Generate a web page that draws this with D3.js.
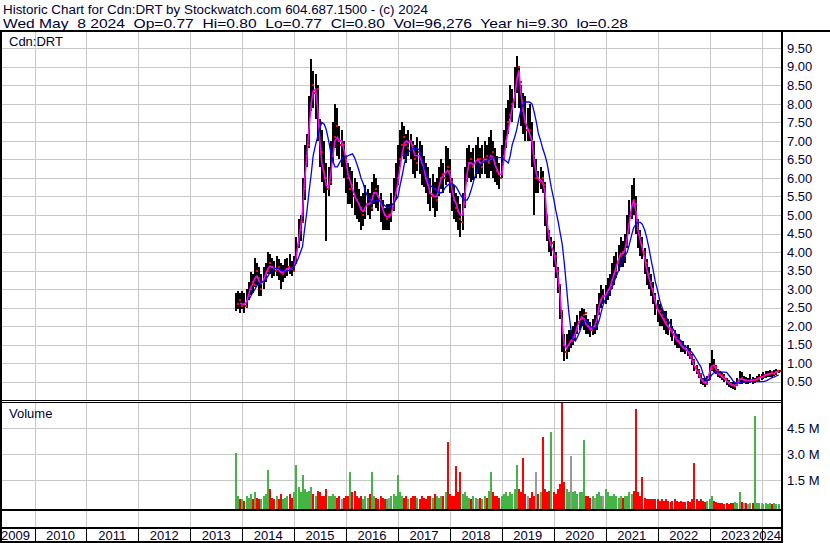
<!DOCTYPE html>
<html><head><meta charset="utf-8">
<script src="https://cdn.jsdelivr.net/npm/d3@7"></script>
<style>
html,body{margin:0;padding:0;background:#fff;}
svg{display:block;font-family:"Liberation Sans",Arial,sans-serif;}
text{white-space:pre;}
</style></head><body>
<svg id="c" width="830" height="543"></svg>
<script>
// ---------- DATA (semi-monthly) ----------
const dates = [
"2013-11-15","2013-12-01","2013-12-15",
"2014-01-01","2014-01-15","2014-02-01","2014-02-15","2014-03-01","2014-03-15","2014-04-01","2014-04-15","2014-05-01","2014-05-15","2014-06-01","2014-06-15","2014-07-01","2014-07-15","2014-08-01","2014-08-15","2014-09-01","2014-09-15","2014-10-01","2014-10-15","2014-11-01","2014-11-15","2014-12-01","2014-12-15",
"2015-01-01","2015-01-15","2015-02-01","2015-02-15","2015-03-01","2015-03-15","2015-04-01","2015-04-15","2015-05-01","2015-05-15","2015-06-01","2015-06-15","2015-07-01","2015-07-15","2015-08-01","2015-08-15","2015-09-01","2015-09-15","2015-10-01","2015-10-15","2015-11-01","2015-11-15","2015-12-01","2015-12-15",
"2016-01-01","2016-01-15","2016-02-01","2016-02-15","2016-03-01","2016-03-15","2016-04-01","2016-04-15","2016-05-01","2016-05-15","2016-06-01","2016-06-15","2016-07-01","2016-07-15","2016-08-01","2016-08-15","2016-09-01","2016-09-15","2016-10-01","2016-10-15","2016-11-01","2016-11-15","2016-12-01","2016-12-15",
"2017-01-01","2017-01-15","2017-02-01","2017-02-15","2017-03-01","2017-03-15","2017-04-01","2017-04-15","2017-05-01","2017-05-15","2017-06-01","2017-06-15","2017-07-01","2017-07-15","2017-08-01","2017-08-15","2017-09-01","2017-09-15","2017-10-01","2017-10-15","2017-11-01","2017-11-15","2017-12-01","2017-12-15",
"2018-01-01","2018-01-15","2018-02-01","2018-02-15","2018-03-01","2018-03-15","2018-04-01","2018-04-15","2018-05-01","2018-05-15","2018-06-01","2018-06-15","2018-07-01","2018-07-15","2018-08-01","2018-08-15","2018-09-01","2018-09-15","2018-10-01","2018-10-15","2018-11-01","2018-11-15","2018-12-01","2018-12-15",
"2019-01-01","2019-01-15","2019-02-01","2019-02-15","2019-03-01","2019-03-15","2019-04-01","2019-04-15","2019-05-01","2019-05-15","2019-06-01","2019-06-15","2019-07-01","2019-07-15","2019-08-01","2019-08-15","2019-09-01","2019-09-15","2019-10-01","2019-10-15","2019-11-01","2019-11-15","2019-12-01","2019-12-15",
"2020-01-01","2020-01-15","2020-02-01","2020-02-15","2020-03-01","2020-03-15","2020-04-01","2020-04-15","2020-05-01","2020-05-15","2020-06-01","2020-06-15","2020-07-01","2020-07-15","2020-08-01","2020-08-15","2020-09-01","2020-09-15","2020-10-01","2020-10-15","2020-11-01","2020-11-15","2020-12-01","2020-12-15",
"2021-01-01","2021-01-15","2021-02-01","2021-02-15","2021-03-01","2021-03-15","2021-04-01","2021-04-15","2021-05-01","2021-05-15","2021-06-01","2021-06-15","2021-07-01","2021-07-15","2021-08-01","2021-08-15","2021-09-01","2021-09-15","2021-10-01","2021-10-15","2021-11-01","2021-11-15","2021-12-01","2021-12-15",
"2022-01-01","2022-01-15","2022-02-01","2022-02-15","2022-03-01","2022-03-15","2022-04-01","2022-04-15","2022-05-01","2022-05-15","2022-06-01","2022-06-15","2022-07-01","2022-07-15","2022-08-01","2022-08-15","2022-09-01","2022-09-15","2022-10-01","2022-10-15","2022-11-01","2022-11-15","2022-12-01","2022-12-15",
"2023-01-01","2023-01-15","2023-02-01","2023-02-15","2023-03-01","2023-03-15","2023-04-01","2023-04-15","2023-05-01","2023-05-15","2023-06-01","2023-06-15","2023-07-01","2023-07-15","2023-08-01","2023-08-15","2023-09-01","2023-09-15","2023-10-01","2023-10-15","2023-11-01","2023-11-15","2023-12-01","2023-12-15",
"2024-01-01","2024-01-15","2024-02-01","2024-02-15","2024-03-01","2024-03-15","2024-04-01","2024-04-15","2024-05-01"
];
const highs = [
2.9,2.95,2.9,
2.95,2.9,3.0,3.2,3.45,3.4,3.85,3.7,3.6,3.4,3.6,3.7,4.0,3.95,3.85,3.75,3.9,3.8,3.7,3.65,3.8,3.85,3.95,3.75,
3.9,4.4,4.9,5.0,6.0,6.9,7.2,8.2,9.2,8.9,8.8,8.5,7.6,7.3,7.0,6.4,6.3,7.0,7.5,8.0,7.9,7.4,7.3,7.0,
6.6,6.4,6.3,6.2,6.0,5.9,5.7,5.5,5.6,5.8,5.7,5.6,5.9,6.1,6.0,5.8,5.6,5.4,5.2,5.3,5.3,5.6,6.0,6.4,
6.9,7.3,7.5,7.4,7.2,7.3,7.2,7.0,6.9,7.1,7.0,6.9,6.6,6.4,6.3,6.0,6.1,5.9,6.0,6.3,6.5,6.4,6.85,6.8,
6.5,6.0,5.8,5.6,5.5,5.3,5.6,6.3,6.8,6.9,6.7,6.8,6.9,7.1,6.8,6.9,7.0,6.9,7.1,7.3,7.0,6.8,6.6,6.4,
6.9,7.3,7.9,8.1,8.5,8.4,9.0,9.3,9.0,8.5,8.3,8.2,7.9,8.0,7.5,7.0,6.5,6.2,6.3,6.2,5.9,5.0,4.6,4.4,
4.3,4.0,3.6,3.1,2.4,1.8,1.8,1.9,1.9,2.0,2.1,2.3,2.4,2.5,2.45,2.3,2.2,2.1,2.2,2.3,2.6,2.9,3.1,3.0,
3.1,3.3,3.4,3.7,3.9,4.0,4.2,4.4,4.3,4.5,5.0,5.4,5.8,6.0,5.5,4.9,4.6,4.4,4.1,3.8,3.6,3.4,3.2,2.9,
2.7,2.6,2.5,2.4,2.4,2.2,2.2,2.0,1.9,1.8,1.8,1.6,1.6,1.5,1.5,1.4,1.25,1.1,0.95,0.85,0.7,0.6,0.6,0.65,
1.0,1.35,1.1,0.95,0.85,0.8,0.75,0.7,0.6,0.55,0.5,0.48,0.5,0.6,0.8,0.75,0.65,0.62,0.6,0.7,0.62,0.6,0.65,0.7,
0.72,0.75,0.78,0.8,0.82,0.8,0.82,0.85,0.82
];
const lows = [
2.4,2.45,2.35,
2.45,2.35,2.5,2.7,2.85,2.9,3.05,3.1,2.8,2.8,3.0,3.2,3.4,3.4,3.3,3.35,3.35,3.25,3.0,3.2,3.3,3.35,3.4,3.35,
3.45,3.7,4.1,4.3,4.8,5.4,6.3,6.8,7.8,7.9,7.6,7.0,6.3,5.9,5.6,4.3,5.5,5.8,6.4,6.8,6.6,6.5,6.3,6.0,
5.6,5.3,5.3,5.2,5.0,4.9,4.8,4.6,4.7,4.9,5.0,4.9,5.1,5.3,5.2,5.1,4.8,4.6,4.6,4.6,4.6,4.8,5.1,5.4,
5.8,6.3,6.6,6.5,6.4,6.6,6.5,6.1,6.0,6.2,6.1,5.8,5.75,5.6,5.3,5.1,5.2,4.95,5.1,5.5,5.7,5.6,5.8,5.9,
5.6,5.1,4.9,4.8,4.6,4.4,4.6,5.2,5.9,6.0,5.9,5.95,6.0,6.1,6.0,6.1,6.1,6.0,6.0,6.2,6.0,5.9,5.8,5.7,
6.0,6.5,6.8,7.2,7.6,7.5,7.9,8.3,7.9,7.4,7.2,7.0,7.0,7.0,6.3,5.0,5.6,5.6,5.7,5.6,4.7,4.3,4.0,3.9,
3.6,3.3,2.9,2.2,1.3,1.05,1.1,1.3,1.4,1.5,1.6,1.8,1.9,2.0,1.9,1.8,1.8,1.7,1.75,1.8,1.9,2.3,2.5,2.6,
2.6,2.7,2.8,3.0,3.1,3.3,3.5,3.6,3.6,3.7,4.1,4.5,4.9,5.0,4.5,4.1,3.9,3.8,3.4,3.1,3.0,2.8,2.6,2.3,
2.1,2.0,2.0,1.9,1.8,1.75,1.7,1.6,1.5,1.4,1.4,1.3,1.3,1.25,1.2,1.1,0.95,0.8,0.7,0.6,0.45,0.4,0.36,0.42,
0.55,0.8,0.75,0.7,0.62,0.6,0.55,0.5,0.42,0.36,0.34,0.3,0.28,0.38,0.45,0.45,0.47,0.45,0.45,0.47,0.45,0.47,0.5,0.52,
0.55,0.58,0.6,0.62,0.64,0.62,0.66,0.68,0.74
];
const closes = [
2.6,2.7,2.55,
2.6,2.55,2.8,3.0,3.2,3.1,3.5,3.3,3.0,3.2,3.4,3.5,3.7,3.6,3.55,3.5,3.6,3.45,3.4,3.5,3.55,3.6,3.55,3.5,
3.7,4.2,4.6,4.8,5.7,6.6,6.9,7.9,8.5,8.3,8.4,7.4,6.7,6.2,6.0,5.7,5.9,6.6,7.1,7.4,7.0,6.9,6.9,6.6,
6.0,5.7,5.8,5.5,5.4,5.3,5.2,5.0,5.1,5.3,5.4,5.2,5.6,5.7,5.5,5.4,5.2,5.0,4.9,5.0,5.0,5.3,5.6,6.0,
6.5,6.9,7.1,6.9,6.8,7.0,6.9,6.5,6.4,6.7,6.4,6.3,6.0,5.8,5.6,5.5,5.7,5.4,5.6,6.0,6.1,6.0,6.3,6.2,
5.9,5.4,5.2,5.1,4.9,4.8,5.3,6.0,6.4,6.5,6.3,6.4,6.5,6.5,6.3,6.5,6.6,6.4,6.5,6.7,6.4,6.2,6.1,6.0,
6.6,7.0,7.5,7.7,8.0,8.1,8.7,9.0,8.6,7.8,7.5,7.3,7.3,7.0,6.6,6.0,6.0,5.9,6.0,5.8,5.0,4.5,4.2,4.25,
3.9,3.5,3.1,2.4,1.5,1.3,1.5,1.6,1.6,1.7,1.9,2.1,2.2,2.3,2.35,2.0,1.95,1.9,2.0,2.0,2.4,2.7,2.8,2.8,
2.9,3.0,3.1,3.4,3.5,3.7,3.9,4.0,3.9,4.2,4.7,5.0,5.4,5.3,4.8,4.4,4.2,4.0,3.7,3.4,3.2,3.0,2.8,2.5,
2.4,2.3,2.2,2.1,2.0,1.95,1.9,1.8,1.7,1.6,1.55,1.45,1.4,1.35,1.3,1.2,1.05,0.9,0.8,0.7,0.55,0.5,0.45,0.55,
0.85,0.95,0.9,0.8,0.7,0.68,0.62,0.58,0.5,0.45,0.4,0.38,0.4,0.5,0.6,0.55,0.55,0.52,0.52,0.55,0.53,0.55,0.58,0.62,
0.62,0.68,0.7,0.72,0.75,0.7,0.75,0.78,0.8
];
// short moving average (magenta line)
const maShort = [
null,null,2.62,
2.6,2.58,2.65,2.85,3.05,3.12,3.3,3.35,3.2,3.15,3.25,3.4,3.55,3.62,3.6,3.55,3.55,3.52,3.45,3.45,3.5,3.55,3.57,3.55,
3.6,3.85,4.3,4.65,5.1,5.9,6.6,7.3,8.0,8.35,8.4,7.9,7.0,6.4,6.1,5.8,5.75,6.1,6.6,7.0,7.1,7.0,7.0,6.8,
6.5,6.1,5.9,5.7,5.55,5.4,5.3,5.15,5.1,5.2,5.3,5.3,5.4,5.6,5.6,5.5,5.35,5.15,5.0,4.95,4.95,5.05,5.3,5.55,
5.9,6.3,6.7,6.95,7.0,6.95,7.0,6.8,6.6,6.6,6.6,6.45,6.3,6.0,5.8,5.6,5.55,5.5,5.5,5.75,6.0,6.05,6.15,6.2,
6.1,5.7,5.4,5.3,5.1,5.0,5.0,5.5,6.1,6.4,6.4,6.35,6.45,6.5,6.4,6.4,6.5,6.5,6.45,6.6,6.55,6.35,6.2,6.1,
6.1,6.5,7.0,7.3,7.6,7.9,8.2,8.6,8.9,8.3,7.8,7.5,7.35,7.2,7.0,6.5,6.1,5.95,5.95,5.9,5.6,4.8,4.35,4.15,
4.0,3.7,3.3,2.8,2.0,1.5,1.4,1.5,1.6,1.65,1.8,2.0,2.15,2.25,2.2,2.05,2.0,1.9,1.95,2.0,2.2,2.55,2.75,2.8,
2.85,2.95,3.05,3.25,3.4,3.6,3.8,3.95,3.95,4.05,4.4,4.8,5.2,5.4,5.1,4.6,4.3,4.1,3.85,3.55,3.3,3.1,2.9,2.65,
2.45,2.35,2.25,2.15,2.05,1.98,1.9,1.82,1.72,1.62,1.56,1.48,1.42,1.37,1.32,1.22,1.08,0.93,0.82,0.72,0.58,0.5,0.46,0.52,
0.75,0.92,0.93,0.83,0.72,0.68,0.63,0.58,0.52,0.46,0.42,0.39,0.4,0.47,0.57,0.57,0.55,0.53,0.52,0.54,0.54,0.55,0.57,0.61,
0.62,0.65,0.68,0.7,0.72,0.72,0.73,0.76,0.78
];
// long moving average (blue line)
const maLong = [
null,null,null,
null,null,null,2.7,2.8,2.9,3.0,3.1,3.15,3.2,3.2,3.25,3.35,3.45,3.5,3.55,3.57,3.55,3.52,3.5,3.48,3.5,3.52,3.55,
3.6,3.7,3.85,4.0,4.15,4.6,5.1,5.6,6.1,6.6,6.9,7.1,7.35,7.5,7.45,7.3,7.0,6.7,6.45,6.3,6.3,6.4,6.5,6.55,
6.57,6.6,6.63,6.65,6.55,6.4,6.2,6.0,5.85,5.65,5.5,5.4,5.35,5.35,5.4,5.4,5.35,5.3,5.25,5.2,5.2,5.25,5.3,5.4,
5.5,5.8,6.1,6.4,6.6,6.7,6.75,6.8,6.8,6.8,6.75,6.55,6.35,6.15,5.95,5.8,5.75,5.7,5.65,5.6,5.6,5.65,5.75,5.8,
5.85,5.85,5.8,5.75,5.65,5.55,5.45,5.4,5.4,5.5,5.7,5.9,6.1,6.25,6.35,6.4,6.45,6.45,6.5,6.55,6.55,6.55,6.55,6.55,
6.55,6.5,6.45,6.4,6.6,6.9,7.1,7.3,7.6,7.85,8.0,8.05,8.05,8.05,8.0,7.8,7.5,7.2,7.0,6.8,6.6,6.4,6.04,5.73,
5.43,5.13,4.82,4.52,4.2,3.7,3.0,2.4,1.9,1.65,1.6,1.7,1.85,2.0,2.1,2.15,2.1,2.0,1.95,1.95,2.0,2.15,2.4,2.6,
2.75,2.85,2.95,3.05,3.2,3.35,3.5,3.65,3.8,3.9,4.0,4.2,4.45,4.65,4.75,4.8,4.8,4.75,4.6,4.4,4.1,3.8,3.5,3.2,
2.95,2.7,2.5,2.35,2.25,2.15,2.05,1.95,1.85,1.75,1.65,1.6,1.5,1.45,1.4,1.35,1.28,1.2,1.1,1.0,0.9,0.72,0.58,0.52,
0.58,0.68,0.74,0.77,0.78,0.77,0.76,0.76,0.75,0.68,0.6,0.52,0.47,0.46,0.47,0.48,0.49,0.5,0.5,0.5,0.5,0.5,0.5,0.5,
0.5,0.5,0.52,0.55,0.58,0.61,0.63,0.66,0.68
];
// volume in millions of shares
const volumes = [
3.1,0.6,0.4,
0.4,0.3,0.6,0.5,0.7,0.4,0.8,0.5,0.4,0.4,0.6,0.7,2.1,1.0,0.5,0.4,0.6,0.4,0.7,0.4,0.5,0.6,0.7,0.5,
0.8,2.4,1.1,0.8,1.8,1.0,0.8,0.9,1.1,0.7,0.6,0.9,0.8,0.6,0.6,1.0,0.6,0.6,0.7,0.6,0.5,0.6,0.4,0.5,
0.6,0.6,2.0,0.8,0.9,0.6,0.5,0.6,0.4,0.6,0.5,0.7,2.0,0.6,0.5,0.4,0.6,0.5,0.4,0.4,0.5,0.6,0.7,0.6,
1.8,0.8,0.6,0.5,0.6,0.4,0.5,0.6,0.6,0.5,0.4,0.6,0.5,0.4,0.6,0.6,0.5,0.7,0.6,0.5,0.6,0.6,0.8,3.7,
0.7,0.6,0.6,2.3,0.8,2.0,0.7,0.8,0.6,0.5,0.4,0.6,0.5,0.4,0.5,0.4,0.6,0.5,0.9,2.0,0.8,0.6,0.6,0.5,
0.6,0.7,0.8,0.6,0.8,0.7,1.0,2.4,1.0,0.8,2.8,0.7,0.6,0.5,0.8,0.6,2.0,0.7,0.8,4.0,1.0,0.8,0.9,4.3,
0.8,0.7,1.0,1.3,6.5,1.4,1.0,0.8,2.9,0.8,0.9,0.7,0.8,0.8,3.8,0.6,0.6,0.5,0.6,0.5,0.7,0.8,0.6,0.6,
1.0,0.8,0.6,0.6,0.7,0.6,0.5,0.6,0.5,0.6,0.6,0.8,0.7,0.9,5.6,0.8,0.6,1.7,0.5,0.4,0.4,0.4,0.4,0.4,
0.4,0.3,0.4,0.3,0.4,0.3,0.25,0.3,0.4,0.3,0.25,0.3,0.25,0.25,0.3,0.25,0.4,2.5,0.4,0.3,0.4,0.3,0.25,0.3,
0.4,0.6,0.3,0.25,0.2,0.2,0.2,0.15,0.2,0.15,0.2,0.2,0.25,0.2,0.8,0.25,0.2,0.2,0.15,0.2,0.2,5.2,0.2,0.2,
0.2,0.15,0.2,0.15,0.2,0.15,0.2,0.15,0.12
];
const priceTicks = [0.5,1,1.5,2,2.5,3,3.5,4,4.5,5,5.5,6,6.5,7,7.5,8,8.5,9,9.5];
const volumeTicks = [1.5,3.0,4.5];
const yearLabels = [2009,2010,2011,2012,2013,2014,2015,2016,2017,2018,2019,2020,2021,2022,2023,2024];
const headerLine1 = "Historic Chart for Cdn:DRT by Stockwatch.com 604.687.1500 - (c) 2024";
const headerLine2 = "Wed May  8 2024  Op=0.77  Hi=0.80  Lo=0.77  Cl=0.80  Vol=96,276  Year hi=9.30  lo=0.28";
const symbolLabel = "Cdn:DRT";
const volumeLabel = "Volume";

// ---------- LAYOUT ----------
const TXT = "#000033";
const L = 2, R = 781;
const pTop = 32, pBot = 400, vTop = 402, vBot = 509;
const parseDate = d3.timeParse("%Y-%m-%d");
const rows = dates.map((d, i) => ({
  date: parseDate(d), hi: highs[i], lo: lows[i], cl: closes[i],
  ms: maShort[i], ml: maLong[i], v: volumes[i],
  dir: i === 0 ? 1 : Math.sign(closes[i] - closes[i - 1])
}));

const x = d3.scaleTime().domain([new Date(2010, 0, 1), new Date(2024, 0, 1)]).range([34.5, 761.5]);
const y = d3.scaleLinear().domain([0.5, 9.5]).range([381.7, 48.3]);
const yv = d3.scaleLinear().domain([0, 4.5]).range([506.3, 428.3]);

const svg = d3.select("#c");
svg.append("rect").attr("width", 830).attr("height", 543).attr("fill", "#fff");

const defs = svg.append("defs");
defs.append("clipPath").attr("id", "cp").append("rect").attr("x", L).attr("y", pTop).attr("width", R - L).attr("height", pBot - pTop);
defs.append("clipPath").attr("id", "cv").append("rect").attr("x", L).attr("y", vTop + 1).attr("width", R - L).attr("height", vBot - vTop - 1);

// ---------- GRID ----------
const grid = svg.append("g").attr("stroke", "#c8c8c8").attr("stroke-width", 1).attr("shape-rendering", "crispEdges");
grid.selectAll(".hp").data(priceTicks).join("line")
  .attr("x1", L).attr("x2", R).attr("y1", d => Math.round(y(d)) + 0.5).attr("y2", d => Math.round(y(d)) + 0.5);
grid.selectAll(".hv").data(volumeTicks).join("line")
  .attr("x1", L).attr("x2", R).attr("y1", d => Math.round(yv(d)) + 0.5).attr("y2", d => Math.round(yv(d)) + 0.5);
const yearBounds = yearLabels.slice(1).map(yr => new Date(yr, 0, 1));
[[pTop, pBot], [vTop, vBot], [511, 527]].forEach(([a, b]) => {
  grid.append("g").selectAll("line").data(yearBounds).join("line")
    .attr("x1", d => Math.round(x(d)) + 0.5).attr("x2", d => Math.round(x(d)) + 0.5)
    .attr("y1", a).attr("y2", b);
});

// ---------- PRICE BARS ----------
const gp = svg.append("g").attr("clip-path", "url(#cp)").attr("shape-rendering", "crispEdges");
gp.selectAll(".bar").data(rows).join("rect")
  .attr("x", d => Math.round(x(d.date)) - 1).attr("width", 2)
  .attr("y", d => y(d.hi)).attr("height", d => Math.max(1, y(d.lo) - y(d.hi)))
  .attr("fill", "#000");
gp.selectAll(".cl").data(rows).join("rect")
  .attr("x", d => Math.round(x(d.date)) + 1).attr("width", 2)
  .attr("y", d => Math.round(y(d.cl)) - 1).attr("height", 2)
  .attr("fill", "#ff0000");

const gl = svg.append("g").attr("clip-path", "url(#cp)").attr("fill", "none");
gl.append("path").datum(rows.filter(d => d.ms != null))
  .attr("d", d3.line().x(d => x(d.date)).y(d => y(d.ms)))
  .attr("stroke", "#ff00ff").attr("stroke-width", 1.6);
gl.append("path").datum(rows.filter(d => d.ml != null))
  .attr("d", d3.line().x(d => x(d.date)).y(d => y(d.ml)))
  .attr("stroke", "#0000ff").attr("stroke-width", 1.3);

// ---------- VOLUME ----------
const gv = svg.append("g").attr("clip-path", "url(#cv)").attr("shape-rendering", "crispEdges");
gv.selectAll("rect").data(rows).join("rect")
  .attr("x", d => Math.round(x(d.date)) - 1).attr("width", 2)
  .attr("y", d => yv(d.v)).attr("height", d => vBot - yv(d.v))
  .attr("fill", d => d.dir > 0 ? "#44b444" : d.dir < 0 ? "#ff0000" : "#999999");

// ---------- FRAME ----------
const fr = svg.append("g").attr("fill", "#000").attr("shape-rendering", "crispEdges");
fr.append("rect").attr("x", 0).attr("y", 30).attr("width", 830).attr("height", 2);
fr.append("rect").attr("x", 0).attr("y", 30).attr("width", 2).attr("height", 513);
fr.append("rect").attr("x", R).attr("y", 30).attr("width", 2).attr("height", 513);
fr.append("rect").attr("x", 0).attr("y", 400).attr("width", R).attr("height", 1);
fr.append("rect").attr("x", 0).attr("y", 402).attr("width", R).attr("height", 1);
fr.append("rect").attr("x", 0).attr("y", 509).attr("width", R).attr("height", 2);
fr.append("rect").attr("x", 0).attr("y", 527).attr("width", R).attr("height", 2);
fr.append("rect").attr("x", 0).attr("y", 541).attr("width", R).attr("height", 2);
fr.selectAll(".sep").data(yearBounds).join("rect")
  .attr("x", d => Math.round(x(d))).attr("y", 529).attr("width", 1).attr("height", 12);

// ---------- AXES (right) ----------
const ax = svg.append("g").attr("transform", `translate(${R + 2},0)`)
  .call(d3.axisRight(y).tickValues(priceTicks).tickFormat(d3.format(".2f")).tickSize(0).tickPadding(4));
ax.select(".domain").remove();
ax.selectAll("text").attr("font-size", 13).attr("fill", TXT).attr("font-family", "Liberation Sans, Arial, sans-serif");
const axv = svg.append("g").attr("transform", `translate(${R + 2},0)`)
  .call(d3.axisRight(yv).tickValues(volumeTicks).tickFormat(d => d.toFixed(1) + " M").tickSize(0).tickPadding(4));
axv.select(".domain").remove();
axv.selectAll("text").attr("font-size", 13).attr("fill", TXT).attr("font-family", "Liberation Sans, Arial, sans-serif");

// ---------- X LABELS ----------
const xl = svg.append("g").attr("font-size", 13).attr("fill", TXT);
xl.selectAll("text").data(yearLabels).join("text")
  .attr("y", 539.5).attr("text-anchor", "middle")
  .text(d => d)
  .each(function (d) {
    const c = (x(new Date(d, 0, 1)) + x(new Date(d + 1, 0, 1))) / 2;
    const w = this.getComputedTextLength();
    let cx = Math.max(1 + w / 2, Math.min(R - w / 2, c));
    d3.select(this).attr("x", cx);
  });

// ---------- TEXT ----------
svg.append("text").attr("x", 3).attr("y", 13.5).attr("font-size", 13.5).attr("fill", TXT)
  .attr("textLength", 425).attr("lengthAdjust", "spacingAndGlyphs").text(headerLine1);
svg.append("text").attr("x", 3).attr("y", 27.5).attr("font-size", 13.5).attr("fill", TXT)
  .attr("textLength", 625).attr("lengthAdjust", "spacingAndGlyphs").text(headerLine2);
svg.append("text").attr("x", 9).attr("y", 45.5).attr("font-size", 13).attr("fill", TXT).text(symbolLabel);
svg.append("text").attr("x", 9).attr("y", 418).attr("font-size", 13).attr("fill", TXT).text(volumeLabel);
</script>
</body></html>
